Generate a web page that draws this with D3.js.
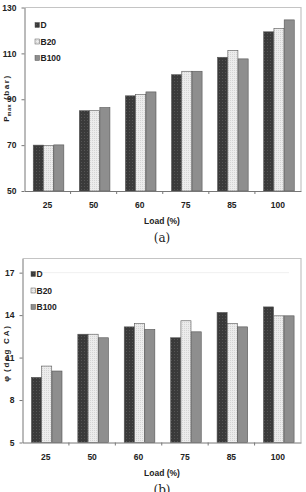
<!DOCTYPE html>
<html><head><meta charset="utf-8">
<script src="https://cdn.jsdelivr.net/npm/d3@7"></script>
<style>
html,body{margin:0;padding:0;background:#fff;}
svg{display:block;}
.t{font-family:"Liberation Sans Narrow","Arial Narrow","Liberation Sans",sans-serif;font-weight:bold;fill:#222;}
</style></head>
<body><svg id="c" width="306" height="492"></svg>
<script>
const loads = ["25","50","60","75","85","100"];
const series = ["D","B20","B100"];
const pmaxD    = [70.0, 85.0, 91.5, 100.7, 108.3, 119.4];
const pmaxB20  = [69.8, 85.0, 92.0, 102.2, 111.3, 120.8];
const pmaxB100 = [70.1, 86.4, 93.2, 102.2, 107.6, 124.6];
const phiD    = [9.6, 12.65, 13.17, 12.4, 14.19, 14.58];
const phiB20  = [10.4, 12.65, 13.41, 13.6, 13.41, 13.95];
const phiB100 = [10.05, 12.4, 12.99, 12.82, 13.17, 13.95];
const pTicks = [50,70,90,110,130];
const phiTicks = [5,8,11,14,17];

const svg = d3.select("#c");
const defs = svg.append("defs");
// D: dark crosshatch
const pD = defs.append("pattern").attr("id","pD").attr("patternUnits","userSpaceOnUse").attr("width",3).attr("height",3);
pD.append("rect").attr("width",3).attr("height",3).attr("fill","#3a3a3a");
pD.append("rect").attr("width",1).attr("height",1).attr("fill","#555");
// B20: light dotted
const pB = defs.append("pattern").attr("id","pB").attr("patternUnits","userSpaceOnUse").attr("width",2).attr("height",2);
pB.append("rect").attr("width",2).attr("height",2).attr("fill","#ececec");
pB.append("rect").attr("width",1).attr("height",1).attr("fill","#d4d4d4");
const fills = {"D":"url(#pD)","B20":"url(#pB)","B100":"#8e8e8e"};

function chart(o){
  const g = svg.append("g");
  const x = d3.scaleBand().domain(loads).range([o.x0,o.x1]).padding(0);
  const y = d3.scaleLinear().domain(o.dom).range([o.yb,o.yt]);
  const xi = d3.scaleBand().domain(series).range([0,31]).padding(0.02);
  const off = (x.bandwidth()-31)/2 + 1;
  // frame
  g.append("path").attr("d",`M${o.x0},${o.yt}H${o.x1}V${o.yb}`).attr("fill","none").attr("stroke","#c4c4c4").attr("stroke-width",1.2);
  if(o.grid!==undefined){
    g.append("line").attr("x1",o.x0+10).attr("x2",o.x1-12).attr("y1",y(o.grid)).attr("y2",y(o.grid)).attr("stroke","#f0f0f0").attr("stroke-width",1);
  }
  // bars
  const data = [];
  loads.forEach((l,i)=>series.forEach((s,j)=>data.push({l,s,v:o.vals[j][i]})));
  g.selectAll("rect.bar").data(data).join("rect").attr("class","bar")
    .attr("x",d=>x(d.l)+off+xi(d.s)).attr("width",xi.bandwidth())
    .attr("y",d=>y(d.v)).attr("height",d=>o.yb-y(d.v))
    .attr("fill",d=>fills[d.s]).attr("stroke","#555").attr("stroke-width",0.6);
  // y axis
  const ya = d3.axisLeft(y).tickValues(o.ticks).tickSize(3).tickSizeOuter(0);
  const yg = g.append("g").attr("transform",`translate(${o.x0},0)`).call(ya);
  yg.select(".domain").attr("stroke","#777");
  yg.selectAll(".tick line").attr("stroke","#777");
  yg.selectAll("text").attr("class","t").attr("font-size",8.5).attr("dx",-2);
  // x axis
  const xa = d3.axisBottom(x).tickSize(0).tickSizeOuter(0);
  const xg = g.append("g").attr("transform",`translate(0,${o.yb})`).call(xa);
  xg.select(".domain").attr("stroke","#777");
  xg.selectAll("text").attr("class","t").attr("font-size",8.5).attr("dy",14);
  // boundary ticks
  xg.selectAll("line.bt").data(loads.slice(1)).join("line").attr("class","bt")
    .attr("x1",d=>x(d)).attr("x2",d=>x(d)).attr("y1",0).attr("y2",3).attr("stroke","#777");
  // x title
  g.append("text").attr("class","t").attr("font-size",8.5).attr("x",162).attr("y",o.yb+33).attr("text-anchor","middle").text("Load (%)");
  // caption
  g.append("text").attr("x",162).attr("y",o.yb+51).attr("text-anchor","middle")
    .attr("font-family","DejaVu Serif, serif").attr("font-size",12).attr("fill","#222").text(o.cap);
  // legend
  series.forEach((s,j)=>{
    const ly = o.ly + j*16.5;
    g.append("rect").attr("x",o.lx).attr("y",ly-2.5).attr("width",4.5).attr("height",5)
      .attr("fill",fills[s]).attr("stroke","#555").attr("stroke-width",0.5);
    g.append("text").attr("class","t").attr("font-size",8.5).attr("x",o.lx+5.5).attr("y",ly+3).text(s);
  });
  // y title
  const yt = g.append("text").attr("class","t").attr("font-size",8)
    .attr("transform",`translate(${o.ytx},${o.yty}) rotate(-90)`).attr("text-anchor","middle");
  o.ytitle(yt);
}

chart({x0:24.5,x1:301,yt:7.5,yb:191,dom:[50,130],ticks:pTicks,vals:[pmaxD,pmaxB20,pmaxB100],
  cap:"(a)",lx:35,ly:25,ytx:9,yty:98,
  ytitle:t=>{t.append("tspan").text("P");t.append("tspan").attr("font-size",5.5).attr("dy",1.5).attr("letter-spacing",0.5).text("max");
    t.append("tspan").attr("dy",-1.5).attr("letter-spacing",1.6).text(" (bar)");}});
chart({x0:22.5,x1:301,yt:258.5,yb:442.5,dom:[5,18],ticks:phiTicks,vals:[phiD,phiB20,phiB100],
  cap:"(b)",lx:31,ly:274,ytx:9,yty:353,grid:17,
  ytitle:t=>{t.append("tspan").text("φ");t.append("tspan").attr("letter-spacing",1.8).text("  (deg CA)");}});
</script></body></html>
